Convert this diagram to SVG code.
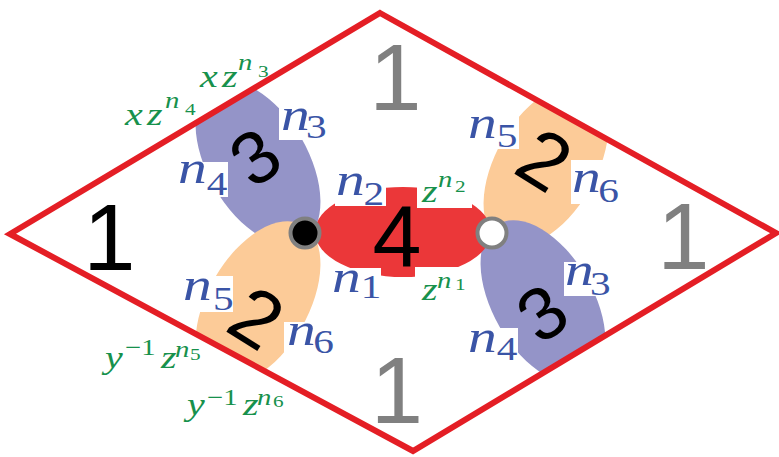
<svg xmlns="http://www.w3.org/2000/svg" width="779" height="457" viewBox="0 0 779 457">
<style>
.big{font-family:"Liberation Sans",Arial,sans-serif;}
.one{font-size:94px;text-anchor:middle;}
.g{fill:#808080;}
.k{fill:#000;}
.m{font-family:"Liberation Serif","Times New Roman",serif;}
.bl{fill:#3a54a6;}
.gr{fill:#17914c;}
.it{font-style:italic;}
.nb{font-size:46px;}
.sb{font-size:33px;}
.ng{font-size:32px;}
.sg{font-size:23px;}
.ssg{font-size:17px;}
.wb{fill:#fff;}
.dot{stroke:#808080;stroke-width:4;}
.purple{fill:#9494c8;}
.orange{fill:#fccb98;}
</style>
<defs>
<clipPath id="inside"><polygon points="380,13 776,233 413,451 10,234"/></clipPath>
</defs>
<rect width="779" height="457" fill="#fff"/>
<g id="lobes" clip-path="url(#inside)">
<g id="lobe-3-top-left"><ellipse class="purple" cx="0" cy="0" rx="50" ry="90" transform="translate(258,163) rotate(-30)"/></g>
<g id="lobe-2-bottom-left"><ellipse class="orange" cx="0" cy="0" rx="50" ry="90" transform="translate(258,303) rotate(30)"/></g>
<g id="lobe-2-top-right"><ellipse class="orange" cx="0" cy="0" rx="50" ry="90" transform="translate(546,165) rotate(30)"/></g>
<g id="lobe-3-bottom-right"><ellipse class="purple" cx="0" cy="0" rx="50" ry="90" transform="translate(543,302) rotate(-30)"/></g>
</g>
<g id="lobe-4"><ellipse cx="403" cy="232" rx="88" ry="45" fill="#eb3739"/></g>
<g id="label-boxes">
<rect class="wb" x="279" y="102" width="51" height="38"/>
<rect class="wb" x="177" y="162" width="51" height="35"/>
<rect class="wb" x="335" y="165" width="51" height="41"/>
<rect class="wb" x="417" y="168" width="55" height="40"/>
<rect class="wb" x="331" y="268" width="50" height="34"/>
<rect class="wb" x="415" y="267" width="55" height="36"/>
<rect class="wb" x="182" y="276" width="51" height="36"/>
<rect class="wb" x="284" y="322" width="52" height="34"/>
<rect class="wb" x="467" y="110" width="52" height="39"/>
<rect class="wb" x="571" y="160" width="53" height="44"/>
<rect class="wb" x="564" y="262" width="53" height="34"/>
<rect class="wb" x="466" y="328" width="52" height="35"/>
</g>
<g id="connectors">
<polygon points="380,13 776,233 413,451 10,234" fill="none" stroke="#e41e25" stroke-width="6" stroke-linejoin="miter"/>
</g>
<g id="vertex-black"><circle class="dot" cx="305" cy="233" r="14.5" fill="#000"/></g>
<g id="vertex-white"><circle class="dot" cx="492" cy="233" r="14.5" fill="#fff"/></g>
<g id="faces" class="big">
<text class="one k" x="109.5" y="270">1</text>
<text class="one g" x="395.5" y="110">1</text>
<text class="one g" x="683.5" y="269">1</text>
<text class="one g" x="397" y="423">1</text>
<text class="k" x="397" y="267" font-size="88" text-anchor="middle">4</text>
<g transform="translate(255,157) rotate(-35)"><text class="k" x="0" y="26" font-size="74" text-anchor="middle">3</text></g>
<g transform="translate(257,317) rotate(32)"><text class="k" x="0" y="28.6" font-size="80" text-anchor="middle">2</text></g>
<g transform="translate(545,159) rotate(32)"><text class="k" x="0" y="28.6" font-size="80" text-anchor="middle">2</text></g>
<g transform="translate(542,313) rotate(-35)"><text class="k" x="0" y="26" font-size="74" text-anchor="middle">3</text></g>
</g>
<g id="edge-labels" class="m">
<g transform="translate(281,130) scale(1.25,1)"><text class="bl"><tspan class="it nb" x="0" y="0">n</tspan><tspan class="sb" x="20" y="8">3</tspan></text></g>
<g transform="translate(178,183) scale(1.25,1)"><text class="bl"><tspan class="it nb" x="0" y="0">n</tspan><tspan class="sb" x="23" y="12">4</tspan></text></g>
<g transform="translate(336,195) scale(1.25,1)"><text class="bl"><tspan class="it nb" x="0" y="0">n</tspan><tspan class="sb" x="22" y="10">2</tspan></text></g>
<g transform="translate(332,292) scale(1.25,1)"><text class="bl"><tspan class="it nb" x="0" y="0">n</tspan><tspan class="sb" x="23" y="6">1</tspan></text></g>
<g transform="translate(183,300) scale(1.25,1)"><text class="bl"><tspan class="it nb" x="0" y="0">n</tspan><tspan class="sb" x="24" y="10">5</tspan></text></g>
<g transform="translate(287,345) scale(1.25,1)"><text class="bl"><tspan class="it nb" x="0" y="0">n</tspan><tspan class="sb" x="21" y="8">6</tspan></text></g>
<g transform="translate(468,138) scale(1.25,1)"><text class="bl"><tspan class="it nb" x="0" y="0">n</tspan><tspan class="sb" x="23" y="9">5</tspan></text></g>
<g transform="translate(572,192) scale(1.25,1)"><text class="bl"><tspan class="it nb" x="0" y="0">n</tspan><tspan class="sb" x="21" y="10">6</tspan></text></g>
<g transform="translate(565,285) scale(1.25,1)"><text class="bl"><tspan class="it nb" x="0" y="0">n</tspan><tspan class="sb" x="20" y="10">3</tspan></text></g>
<g transform="translate(468,352) scale(1.25,1)"><text class="bl"><tspan class="it nb" x="0" y="0">n</tspan><tspan class="sb" x="23" y="8">4</tspan></text></g>
<g transform="translate(422,202) scale(1.25,1)"><text class="gr"><tspan class="it ng" x="0" y="0">z</tspan><tspan class="it sg" x="12.8" y="-15">n</tspan><tspan class="ssg" x="26.4" y="-10">2</tspan></text></g>
<g transform="translate(422,300) scale(1.25,1)"><text class="gr"><tspan class="it ng" x="0" y="0">z</tspan><tspan class="it sg" x="12" y="-12">n</tspan><tspan class="ssg" x="26.4" y="-10">1</tspan></text></g>
<g transform="translate(200,87) scale(1.25,1)"><text class="gr"><tspan class="it ng" x="0" y="0">x</tspan><tspan class="it ng" x="17.6" y="0">z</tspan><tspan class="it sg" x="30.4" y="-17">n</tspan><tspan class="ssg" x="46.4" y="-10">3</tspan></text></g>
<g transform="translate(125,125) scale(1.25,1)"><text class="gr"><tspan class="it ng" x="0" y="0">x</tspan><tspan class="it ng" x="17.6" y="0">z</tspan><tspan class="it sg" x="32" y="-17">n</tspan><tspan class="ssg" x="48" y="-10">4</tspan></text></g>
<g transform="translate(105,368) scale(1.25,1)"><text class="gr"><tspan class="it ng" x="0" y="0">y</tspan><tspan class="sg" x="16" y="-13">−1</tspan><tspan class="it ng" x="44.8" y="0">z</tspan><tspan class="it sg" x="56" y="-11">n</tspan><tspan class="ssg" x="68" y="-8">5</tspan></text></g>
<g transform="translate(187,415) scale(1.25,1)"><text class="gr"><tspan class="it ng" x="0" y="0">y</tspan><tspan class="sg" x="16" y="-10">−1</tspan><tspan class="it ng" x="44.8" y="0">z</tspan><tspan class="it sg" x="56" y="-10">n</tspan><tspan class="ssg" x="68.8" y="-8">6</tspan></text></g>
</g>
</svg>
